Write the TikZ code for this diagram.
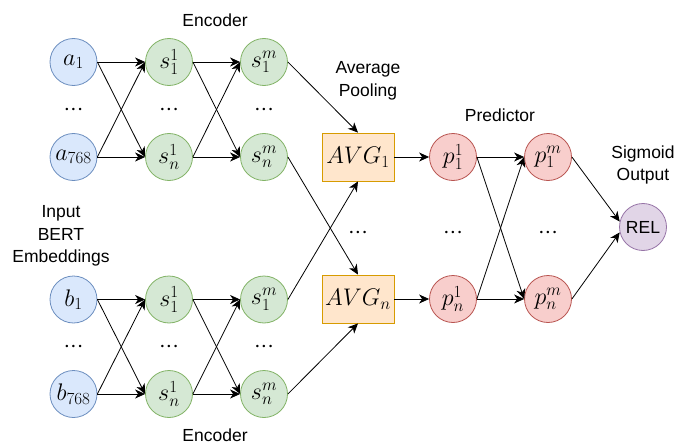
\RequirePackage{fix-cm}
\documentclass[tikz,border=0pt]{standalone}
\usepackage{fontspec}
\setmainfont{Liberation Sans}
\usetikzlibrary{arrows.meta,calc}
\DeclareMathSizes{24}{24}{17}{12}

\definecolor{inFill}{HTML}{DAE8FC}\definecolor{inLine}{HTML}{6C8EBF}
\definecolor{encFill}{HTML}{D5E8D4}\definecolor{encLine}{HTML}{82B366}
\definecolor{avgFill}{HTML}{FFE6CC}\definecolor{avgLine}{HTML}{D79B00}
\definecolor{preFill}{HTML}{F8CECC}\definecolor{preLine}{HTML}{B85450}
\definecolor{outFill}{HTML}{E1D5E7}\definecolor{outLine}{HTML}{9673A6}

% compact ellipsis for the elided neurons
\newcommand{\elide}{${\cdotp}{\cdotp}{\cdotp}$}

\tikzset{
  neuron/.style={circle, minimum size=47pt, inner sep=0pt, line width=0.8pt,
    font=\fontsize{24}{28}\selectfont},
  inputnode/.style={neuron, draw=inLine, fill=inFill},
  encnode/.style={neuron, draw=encLine, fill=encFill},
  prednode/.style={neuron, draw=preLine, fill=preFill},
  outnode/.style={neuron, draw=outLine, fill=outFill, font=\fontsize{17.5}{21}\selectfont},
  poolbox/.style={rectangle, minimum width=72pt, minimum height=48pt, inner sep=0pt,
    line width=0.8pt, draw=avgLine, fill=avgFill, font=\fontsize{24}{28}\selectfont},
  gap/.style={inner sep=0pt, font=\fontsize{24}{28}\selectfont},
  caption/.style={inner sep=0pt, align=center, font=\fontsize{17.5}{22.5}\selectfont},
  link/.style={line width=0.8pt, -{Stealth[length=10pt,width=9pt,inset=3pt]}},
}

\begin{document}
\begin{tikzpicture}[x=1pt,y=-1pt]
\useasboundingbox (0,0) rectangle (675,444);

% upper input and encoder
\node[inputnode] (a1) at (73.5,62) {$a_1$};
\node[inputnode] (a768) at (73.5,157) {$a_{768}$};
\node[encnode] (sa11) at (169,62) {$s_1^1$};
\node[encnode] (sa1n) at (169,157) {$s_n^1$};
\node[encnode] (sam1) at (264,62) {$s_1^m$};
\node[encnode] (samn) at (264,157) {$s_n^m$};
\node[gap] (da0) at (73.5,110) {\elide};
\node[gap] (da1) at (169,110) {\elide};
\node[gap] (da2) at (264,110) {\elide};

% lower input and encoder
\node[inputnode] (b1) at (73.5,299.5) {$b_1$};
\node[inputnode] (b768) at (73.5,394) {$b_{768}$};
\node[encnode] (sb11) at (169,299.5) {$s_1^1$};
\node[encnode] (sb1n) at (169,394) {$s_n^1$};
\node[encnode] (sbm1) at (264,299.5) {$s_1^m$};
\node[encnode] (sbmn) at (264,394) {$s_n^m$};
\node[gap] (db0) at (73.5,347) {\elide};
\node[gap] (db1) at (169,347) {\elide};
\node[gap] (db2) at (264,347) {\elide};

% pooling, predictor and output
\node[poolbox] (avg1) at (358,157) {$AVG_1$};
\node[poolbox] (avgn) at (358,299) {$AVG_n$};
\node[prednode] (p11) at (453,157) {$p_1^1$};
\node[prednode] (p1n) at (453,299) {$p_n^1$};
\node[prednode] (pm1) at (548,157) {$p_1^m$};
\node[prednode] (pmn) at (548,299) {$p_n^m$};
\node[outnode] (rel) at (643,227) {REL};
\node[gap] (dc0) at (358,233) {\elide};
\node[gap] (dc1) at (453,233) {\elide};
\node[gap] (dc2) at (548,233) {\elide};

% captions
\node[caption] (encA) at (215,20) {Encoder};
\node[caption] (encB) at (215,435) {Encoder};
\node[caption] (inlab) at (61,236) {Input\\BERT\\Embeddings};
\node[caption] (poollab) at (368,81) {Average\\Pooling};
\node[caption] (predlab) at (500,115) {Predictor};
\node[caption] (siglab) at (643,165) {Sigmoid\\Output};

% fully connected layers
\foreach \s/\t in {a1/sa11, a1/sa1n, a768/sa11, a768/sa1n,
                   sa11/sam1, sa11/samn, sa1n/sam1, sa1n/samn,
                   b1/sb11, b1/sb1n, b768/sb11, b768/sb1n,
                   sb11/sbm1, sb11/sbmn, sb1n/sbm1, sb1n/sbmn,
                   avg1/p11, avgn/p1n,
                   p11/pm1, p11/pmn, p1n/pm1, p1n/pmn}
  \draw[link] (\s.east) -- (\t.west);

% pooling inputs
\draw[link] (sam1.east) -- (avg1.north);
\draw[link] (samn.east) -- (avgn.north);
\draw[link] (sbm1.east) -- (avg1.south);
\draw[link] (sbmn.east) -- (avgn.south);

% sigmoid output
\draw[link] (pm1.east) -- (rel.167);
\draw[link] (pmn.east) -- (rel.193);
\end{tikzpicture}
\end{document}
